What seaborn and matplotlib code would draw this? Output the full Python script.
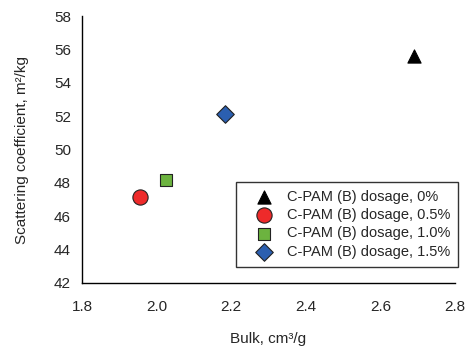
import matplotlib
matplotlib.use("Agg")
import matplotlib.pyplot as plt
import seaborn as sns
import pandas as pd

labels = ["C-PAM (B) dosage, 0%", "C-PAM (B) dosage, 0.5%", "C-PAM (B) dosage, 1.0%", "C-PAM (B) dosage, 1.5%"]
bulk = [2.69, 1.955, 2.025, 2.183]
scattering = [55.6, 47.15, 48.15, 52.15]
markers = ["^", "o", "s", "D"]
colors = ["#000000", "#ee2a2a", "#6cb33f", "#2b5fb0"]
sizes = [90, 120, 85, 80]

sns.set_style("white")
plt.rcParams['font.family'] = ['Liberation Sans', 'DejaVu Sans']
plt.rcParams['font.size'] = 11

fig = plt.figure(figsize=(4.74, 3.54), dpi=100)
ax = fig.add_axes([82/474, 1-283/354, (455-82)/474, (283-16)/354])

df = pd.DataFrame({"bulk": bulk, "s": scattering, "label": labels})
for i in range(len(labels)):
    sns.scatterplot(data=df.iloc[[i]], x="bulk", y="s", marker=markers[i], color=colors[i],
                    s=sizes[i], edgecolor="#222222" if i else "black", linewidth=0.8,
                    label=labels[i], ax=ax, zorder=3)

ax.set_xlim(1.8, 2.8)
ax.set_ylim(42, 58)
ax.set_xticks([1.8, 2.0, 2.2, 2.4, 2.6, 2.8])
ax.set_xticklabels(["1.8", "2.0", "2.2", "2.4", "2.6", "2.8"])
ax.set_yticks(range(42, 59, 2))
ax.spines["top"].set_visible(False)
ax.spines["right"].set_visible(False)
for sp in ["left", "bottom"]:
    ax.spines[sp].set_color("black")
    ax.spines[sp].set_linewidth(1.0)
ax.tick_params(axis="both", direction="out", length=4, width=1, color="black", labelsize=11)
ax.tick_params(axis="y", pad=4)
ax.tick_params(axis="x", pad=8)
ax.set_xlabel("Bulk, cm³/g", fontsize=11, labelpad=13)
ax.set_ylabel("Scattering coefficient, m²/kg", fontsize=11, labelpad=18)

fs = 10.5
em = fs * 100 / 72
leg = ax.legend(loc="lower right", bbox_to_anchor=(1.02, 0.044), frameon=True, fancybox=False,
                edgecolor="black", fontsize=fs, borderpad=0.55, labelspacing=0.3,
                handletextpad=3.5 / em, borderaxespad=0.3, handlelength=39 / em)
leg.get_frame().set_linewidth(1.0)

fig.savefig("out.png", dpi=100)
